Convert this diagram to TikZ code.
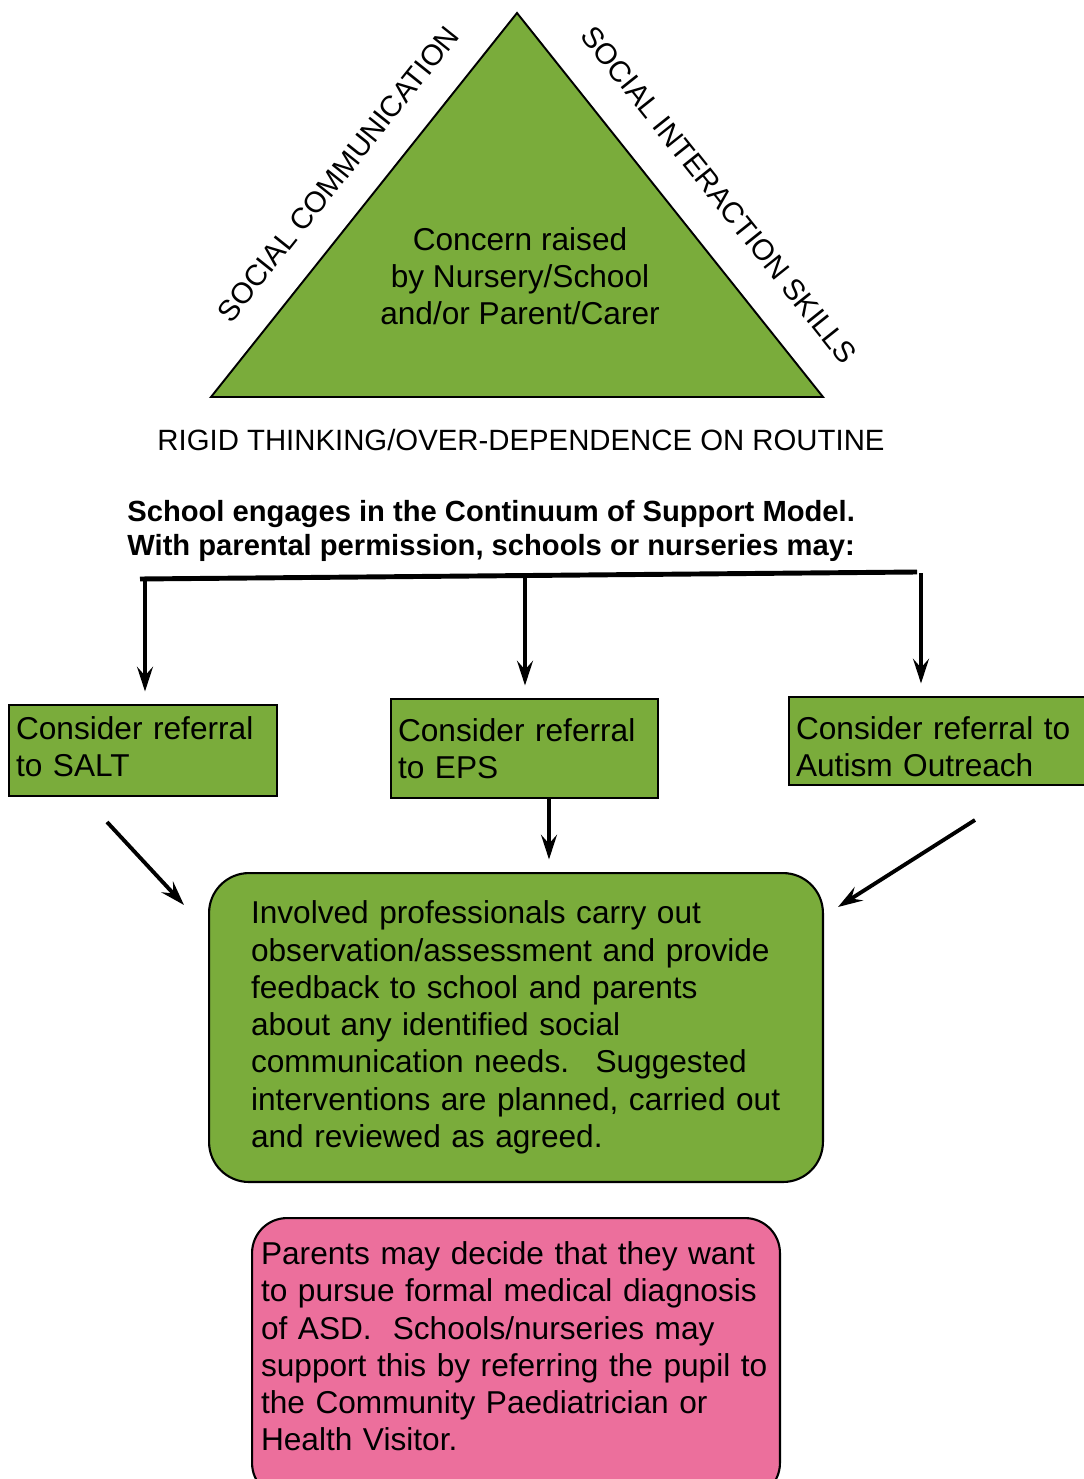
\documentclass[tikz,border=0pt]{standalone}
\usepackage{fontspec}
\setmainfont{Liberation Sans}
\usetikzlibrary{arrows.meta,positioning}
\definecolor{leaf}{RGB}{122,172,59}
\definecolor{rose}{RGB}{236,111,156}

\begin{document}
\begin{tikzpicture}[x=0.02cm,y=-0.02cm,
		big/.style={font=\fontsize{18}{21.2}\selectfont},
		small/.style={font=\fontsize{16.7}{19.3}\selectfont},
		box/.style={big,draw,line width=1.2pt,fill=leaf,anchor=north west,align=left},
		link/.style={-{Stealth[length=14pt,width=9pt,inset=5pt]},line width=2.2pt}]
		\useasboundingbox (0,0) rectangle (1083,1479);

		\coordinate (top) at (517,13);
		\coordinate (right) at (823,397);
		\coordinate (left) at (211,397);
		\draw[fill=leaf,line width=1.1pt] (top) -- (right) -- (left) -- cycle;

		\node[big,align=center] (concern) at (520,276) {Concern raised\\by Nursery/School\\and/or Parent/Carer};
		\node[small,rotate=51.4] (comm) at (338,174) {SOCIAL COMMUNICATION};
		\node[small,rotate=-51.4] (inter) at (719,195) {SOCIAL INTERACTION SKILLS};
		\node[small] (rigid) at (521,440) {RIGID THINKING/OVER-DEPENDENCE ON ROUTINE};
		\node[font=\fontsize{16.6}{19.3}\selectfont\bfseries,anchor=west,align=left,inner sep=0pt] (model) at (127,531)
			{School engages in the Continuum of Support Model.\\With parental permission, schools or nurseries may:};

		\node[box,text width=5.08cm,inner xsep=0.14cm,minimum width=5.36cm,minimum height=1.82cm,text depth=0.9cm] (salt) at (8,704) {Consider referral\\to SALT};
		\node[box,text width=5.06cm,inner xsep=0.14cm,minimum width=5.34cm,minimum height=1.98cm] (eps) at (390,698) {Consider referral\\to EPS};
		\node[box,text width=5.82cm,inner xsep=0.14cm,minimum width=6.1cm,minimum height=1.76cm,text depth=0.52cm] (autism) at (788,696) {Consider referral to\\Autism Outreach};

		\node[box,rounded corners=0.8cm,text width=10.6cm,inner xsep=0.84cm,minimum width=12.28cm,minimum height=6.18cm] (main) at (208,872)
			{Involved professionals carry out\\observation/assessment and provide\\feedback to school and parents\\about any identified social\\communication needs.~ Suggested\\interventions are planned, carried out\\and reviewed as agreed.};
		\node[box,fill=rose,rounded corners=0.7cm,text width=10.2cm,inner xsep=0.18cm,minimum width=10.56cm,minimum height=5.6cm,text depth=4.2cm] (parents) at (251,1217)
			{Parents may decide that they want\\to pursue formal medical diagnosis\\of ASD.~ Schools/nurseries may\\support this by referring the pupil to\\the Community Paediatrician or\\Health Visitor.};

		\coordinate (b1) at (140,579);
		\coordinate (b2) at (917,572);
		\draw[line width=2.8pt] (b1) -- (b2);
		\coordinate (d1) at (145,579);
		\coordinate (d2) at (525,576);
		\coordinate (d3) at (921,573);
		\coordinate (e1) at (549,797);
		\coordinate (s1) at (107,822);
		\coordinate (s2) at (184,905);
		\coordinate (a1) at (975,820);
		\coordinate (a2) at (838,907);

		\foreach \f/\t in {d1/salt,d2/eps,d3/autism,e1/main}{
			\draw[link,shorten >=0.25cm] (\f) -- (\f |- \t.north);
		}
		\foreach \f/\t in {s1/s2,a1/a2}{
			\draw[link] (\f) -- (\t);
		}
	\end{tikzpicture}
\end{document}
